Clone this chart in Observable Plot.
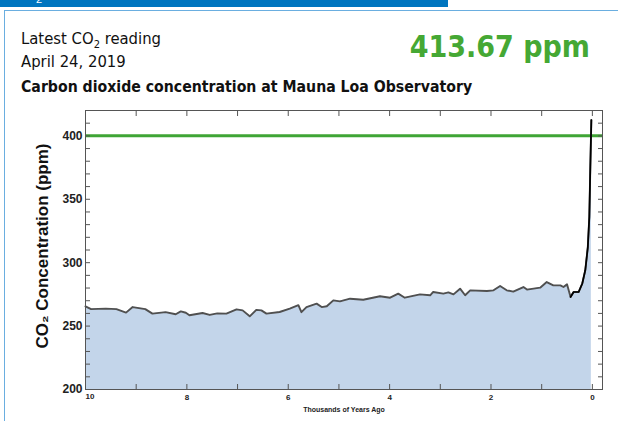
<!DOCTYPE html>
<html>
<head>
<meta charset="utf-8">
<script src="https://cdn.jsdelivr.net/npm/d3@7"></script>
<script src="https://cdn.jsdelivr.net/npm/@observablehq/plot@0.6"></script>
<style>
  html, body { margin: 0; padding: 0; background: #fff; }
  body { width: 618px; height: 421px; overflow: hidden; position: relative; }
  .bar { position: absolute; left: 0; top: 0; width: 448px; height: 7px; background: #0075bf; overflow: hidden; }
  .bar span { position: absolute; left: 36px; top: -8px; color: #fff; font: 11px "Liberation Sans", Arial, sans-serif; line-height: 14px; }
  .box { position: absolute; left: 4px; top: 10px; width: 640px; height: 440px;
         border-left: 1.5px solid #6aaee0; border-top: 1.5px solid #6aaee0; }
  .hdr { position: absolute; left: 21px; font-family: "Liberation Sans Narrow", "DejaVu Sans Condensed", "Roboto", sans-serif;
         font-size: 16.5px; color: #111; white-space: nowrap; }
  .hdr sub { font-size: 11px; vertical-align: -4px; line-height: 0; }
  .big { position: absolute; right: 28px; top: 29px; font-family: "Liberation Sans Narrow", "DejaVu Sans Condensed", "Roboto", sans-serif;
         font-weight: bold; font-size: 30px; color: #45a834; white-space: nowrap; }
  #chart { position: absolute; left: 0; top: 100px; }
</style>
</head>
<body>
<div class="bar"><span>2</span></div>
<div class="box"></div>
<div class="hdr" style="top:29px">Latest CO<sub>2</sub> reading</div>
<div class="hdr" style="top:52px">April 24, 2019</div>
<div class="hdr" style="top:77px;font-weight:bold;font-size:15.7px">Carbon dioxide concentration at Mauna Loa Observatory</div>
<div class="big">413.67 ppm</div>
<div id="chart"></div>
<script>
// thousands of years ago
const kyrAgo = [10.0, 9.89, 9.6, 9.39, 9.2, 9.07, 8.82, 8.68, 8.42, 8.22, 8.12, 8.02, 7.95, 7.69, 7.55, 7.4, 7.22, 7.02, 6.9, 6.76, 6.63, 6.53, 6.43, 6.17, 5.97, 5.8, 5.74, 5.64, 5.44, 5.34, 5.24, 5.11, 4.98, 4.78, 4.52, 4.19, 3.99, 3.83, 3.7, 3.4, 3.2, 3.14, 2.94, 2.84, 2.74, 2.61, 2.51, 2.41, 2.08, 1.95, 1.82, 1.69, 1.56, 1.36, 1.29, 1.03, 0.9, 0.77, 0.63, 0.57, 0.5, 0.43, 0.37, 0.27, 0.2, 0.14, 0.09, 0.06, 0.04, 0.02];
// CO2 concentration (ppm)
const co2ppm = [265.6, 263.4, 263.8, 263.4, 260.6, 265.0, 263.4, 259.8, 261.0, 259.3, 261.6, 260.5, 258.5, 260.3, 258.8, 260.0, 259.8, 263.2, 262.4, 257.7, 262.8, 262.4, 259.8, 261.1, 263.7, 266.5, 261.0, 265.0, 267.7, 265.0, 265.6, 270.3, 269.5, 271.6, 270.8, 273.5, 272.4, 275.6, 272.4, 275.0, 274.3, 276.9, 275.6, 276.6, 275.0, 279.5, 274.3, 278.2, 277.7, 278.2, 281.6, 278.2, 277.2, 280.8, 278.8, 280.3, 284.7, 282.1, 282.1, 280.8, 282.9, 272.9, 276.9, 276.9, 283.4, 294.0, 312.0, 336.0, 375.6, 412.5];
const yLabelTicks = [200, 250, 300, 350, 400];
const yMinorTicks = d3.range(200, 421, 10);
const xLabelTicks = [8, 6, 4, 2, 0];
const xMinorTicks = d3.range(0, 11, 1);
const threshold = 400;

const data = kyrAgo.map((t, i) => ({t, ppm: co2ppm[i]}));
const recent = data.filter(d => d.t <= 0.45);

const plot = Plot.plot({
  width: 618,
  height: 321,
  marginTop: 10,
  marginBottom: 32,
  marginLeft: 85,
  marginRight: 16,
  style: {fontFamily: "Liberation Sans, Arial, sans-serif", color: "#222", background: "transparent", overflow: "visible"},
  x: {domain: [10, -0.2]},
  y: {domain: [200, 420]},
  marks: [
    Plot.areaY(data, {x: "t", y1: 200, y2: "ppm", fill: "#c3d5ea"}),
    Plot.ruleY([threshold], {stroke: "#3fa535", strokeWidth: 3}),
    Plot.lineY(data, {x: "t", y: "ppm", stroke: "#505050", strokeWidth: 1.9}),
    Plot.lineY(recent, {x: "t", y: "ppm", stroke: "#000", strokeWidth: 1.7}),
    Plot.axisY(yMinorTicks, {anchor: "left", tickSize: -5, tickFormat: () => "", label: null, stroke: "#555"}),
    Plot.axisY(yMinorTicks, {anchor: "right", tickSize: -5, tickFormat: () => "", label: null, stroke: "#555"}),
    Plot.axisX(xMinorTicks, {anchor: "top", tickSize: -5, tickFormat: () => "", label: null, stroke: "#555"}),
    Plot.axisX(xMinorTicks, {anchor: "bottom", tickSize: -5, tickFormat: () => "", label: null, stroke: "#555"}),
    Plot.axisY(yLabelTicks, {anchor: "left", tickSize: 0, tickPadding: 3, label: null, fontSize: 12, fontWeight: "bold", fill: "#222"}),
    Plot.axisX(xLabelTicks, {anchor: "bottom", tickSize: 0, tickPadding: 5, label: null, fontSize: 8, fontWeight: "bold", fill: "#222"}),
    Plot.axisX([10], {anchor: "bottom", tickSize: 0, tickPadding: 4, label: null, fontSize: 8, fontWeight: "bold", textAnchor: "start", fill: "#222"}),
    Plot.text(["Thousands of Years Ago"], {frameAnchor: "bottom", dy: 22, fontSize: 7, fontWeight: "bold", fill: "#222"}),
    Plot.text(["CO₂ Concentration (ppm)"], {frameAnchor: "left", dx: -43, dy: -4, rotate: -90, textAnchor: "middle", fontSize: 17, fontWeight: "bold", fill: "#111"}),
    Plot.frame({stroke: "#555", strokeWidth: 1})
  ]
});
document.getElementById("chart").appendChild(plot);
</script>
</body>
</html>
